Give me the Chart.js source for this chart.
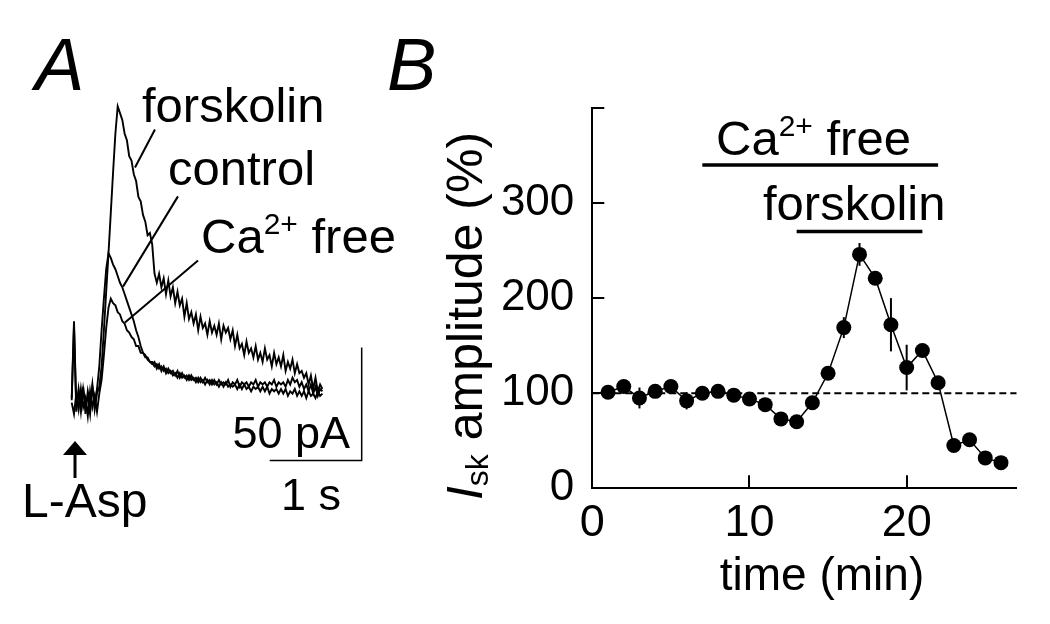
<!DOCTYPE html>
<html>
<head>
<meta charset="utf-8">
<script src="https://cdn.jsdelivr.net/npm/chart.js@4.4.1/dist/chart.umd.min.js"></script>
<style>
  html, body { margin: 0; padding: 0; background: #fff; }
  #figure { position: relative; width: 1050px; height: 624px; overflow: hidden; background: #fff; }
  #figure canvas { position: absolute; top: 0; }
  #traceCanvas { left: 0; }
  #timeCanvas { left: 370px; }
</style>
</head>
<body>
<div id="figure">
  <canvas id="traceCanvas" width="460" height="624"></canvas>
  <canvas id="timeCanvas" width="680" height="624"></canvas>
</div>
<script>
// ---- panel A: current traces (pA), one sample every 25 ms starting at -25 ms
const sampleStart = -0.025;
const sampleStep = 0.025;

const forskolinTrace = [
  -3, 30, -8, 2, -6, 3, -9, 1, -5, 4,
  -7, 0, 3, 12, 28, 45, 62, 80, 98, 115,
  127, 124, 121, 115, 112, 105, 103, 97, 94, 87,
  85, 79, 76, 70, 71, 66, 53, 49, 53, 47,
  51, 44, 50, 43, 47, 40, 45, 39, 42, 34,
  40, 33, 36, 31, 35, 28, 34, 29, 31, 26,
  32, 27, 30, 26, 31, 24, 30, 27, 29, 24,
  28, 21, 26, 20, 22, 17, 23, 18, 20, 16,
  21, 15, 18, 14, 20, 15, 17, 12, 18, 13,
  16, 12, 17, 10, 14, 11, 15, 9, 13, 9,
  10, 7, 9, 4, 8, 2, 7, 1, 4, 2
];
const controlTrace = [
  -2, 32, -6, 1, -8, 2, -5, -1, -9, 3,
  -4, 2, 12, 28, 42, 55, 62, 60, 57, 55,
  52, 49, 47, 44, 41, 38, 35, 32, 28, 25,
  21, 18, 17, 15, 14, 13, 14, 11, 13, 10,
  12, 9, 11, 9, 10, 8, 10, 7, 9, 7,
  8, 6, 8, 6, 7, 5, 7, 5, 7, 5,
  6, 4, 6, 4, 6, 4, 5, 4, 6, 3,
  5, 4, 6, 3, 5, 4, 5, 3, 5, 4,
  6, 3, 5, 4, 5, 3, 5, 4, 6, 3,
  5, 4, 5, 3, 6, 4, 7, 5, 6, 3,
  5, 2, 4, 1, 4, 0, 3, -1, 2, 1
];
const caFreeTrace = [
  -4, -9, 0, -7, 2, -6, -2, -10, 1, -6,
  -1, -8, 0, 6, 17, 29, 38, 42, 40, 39,
  36, 35, 32, 31, 28, 27, 25, 24, 21, 21,
  18, 18, 16, 16, 14, 14, 12, 13, 11, 12,
  10, 11, 9, 10, 8, 9, 7, 9, 7, 8,
  6, 8, 6, 7, 5, 7, 5, 6, 4, 6,
  4, 6, 4, 5, 3, 5, 3, 5, 3, 4,
  3, 4, 2, 4, 2, 4, 2, 3, 1, 3,
  2, 3, 1, 3, 1, 3, 0, 2, 1, 2,
  0, 2, 0, 2, -1, 1, 0, 2, -1, 1,
  -1, 1, -2, 1, -1, 0, -2, 1, -1, 0
];
const scaleBarTime = 1;      // s
const scaleBarCurrent = 50;  // pA

// ---- panel B: Isk amplitude (% of control) vs time (min)
const minutes = [1, 2, 3, 4, 5, 6, 7, 8, 9, 10, 11, 12, 13, 14, 15, 16, 17, 18, 19, 20, 21, 22, 23, 24, 25, 26];
const amplitude = [101, 107, 95, 102, 107, 92, 100, 102, 98, 94, 88, 73, 70, 90, 121, 169, 246, 221, 172, 127, 145, 111, 45, 51, 32, 27];
const amplitudeSem = [5, 5, 11, 5, 5, 9, 5, 5, 5, 5, 5, 5, 5, 5, 5, 11, 12, 6, 28, 24, 5, 5, 4, 4, 4, 4];
const caFreePeriod = [7, 22];
const forskolinPeriod = [13, 21];

const FONT = '"Liberation Sans", Arial, Helvetica, sans-serif';

function drawParts(ctx, parts, x, y, align) {
  let total = 0;
  const widths = parts.map(p => {
    ctx.font = (p.italic ? 'italic ' : '') + p.size + 'px ' + FONT;
    const w = ctx.measureText(p.text).width;
    total += w;
    return w;
  });
  let cx = x;
  if (align === 'center') cx = x - total / 2;
  if (align === 'right') cx = x - total;
  parts.forEach((p, i) => {
    ctx.font = (p.italic ? 'italic ' : '') + p.size + 'px ' + FONT;
    ctx.fillText(p.text, cx, y + (p.dy || 0));
    cx += widths[i];
  });
}

// ---------- panel A ----------
const traceTimes = forskolinTrace.map((v, i) => sampleStart + i * sampleStep);
const toPoints = vals => vals.map((v, i) => ({ x: traceTimes[i], y: v }));

// scale bar corner sits at the lower right
const barCorner = { x: 3.127, y: -29.6 };

const traceLabels = {
  id: 'traceLabels',
  afterDraw(chart) {
    const { ctx, scales: { x } } = chart;
    ctx.save();
    ctx.fillStyle = '#000';
    ctx.textBaseline = 'alphabetic';
    drawParts(ctx, [{ text: 'A', size: 74, italic: true }], 35, 90);
    drawParts(ctx, [{ text: 'forskolin', size: 49 }], 142, 122);
    drawParts(ctx, [{ text: 'control', size: 49 }], 168, 185);
    drawParts(ctx, [
      { text: 'Ca', size: 49 },
      { text: '2+', size: 30, dy: -19 },
      { text: ' free', size: 49 }
    ], 201, 253);
    drawParts(ctx, [{ text: '50 pA', size: 45 }], 350, 448, 'right');
    drawParts(ctx, [{ text: '1 s', size: 45 }], 281, 510);
    drawParts(ctx, [{ text: 'L-Asp', size: 48 }], 22, 517);

    // L-Asp application arrow at t = 0
    const ax = x.getPixelForValue(0) + 1;
    ctx.strokeStyle = '#000';
    ctx.lineWidth = 3;
    ctx.beginPath();
    ctx.moveTo(ax, 452);
    ctx.lineTo(ax, 478);
    ctx.stroke();
    ctx.beginPath();
    ctx.moveTo(ax - 12, 455);
    ctx.lineTo(ax, 441);
    ctx.lineTo(ax + 12, 455);
    ctx.closePath();
    ctx.fill();
    ctx.restore();
  }
};

const traceLine = data => ({
  data, borderColor: '#000', borderWidth: 1.9, pointRadius: 0, tension: 0
});

new Chart(document.getElementById('traceCanvas'), {
  type: 'line',
  data: {
    datasets: [
      traceLine(toPoints(forskolinTrace)),
      traceLine(toPoints(controlTrace)),
      traceLine(toPoints(caFreeTrace)),
      {
        data: [
          { x: barCorner.x - scaleBarTime, y: barCorner.y },
          { x: barCorner.x, y: barCorner.y },
          { x: barCorner.x, y: barCorner.y + scaleBarCurrent }
        ],
        borderColor: '#000', borderWidth: 1.5, pointRadius: 0
      },
      // leader lines from the labels to their traces
      { data: [{ x: 0.88, y: 116.8 }, { x: 0.663, y: 100 }], borderColor: '#000', borderWidth: 2, pointRadius: 0 },
      { data: [{ x: 1.13, y: 87.2 }, { x: 0.533, y: 47.3 }], borderColor: '#000', borderWidth: 2, pointRadius: 0 },
      { data: [{ x: 1.348, y: 58.8 }, { x: 0.554, y: 31.4 }], borderColor: '#000', borderWidth: 2, pointRadius: 0 }
    ]
  },
  options: {
    responsive: false,
    animation: false,
    events: [],
    layout: { padding: { left: 28, top: 77, right: 64, bottom: 140 } },
    plugins: { legend: { display: false }, tooltip: { enabled: false } },
    scales: {
      x: { type: 'linear', display: false, min: -0.5, max: 3.5 },
      y: { type: 'linear', display: false, min: -40, max: 140 }
    }
  },
  plugins: [traceLabels]
});

// ---------- panel B ----------
const errorBars = {
  id: 'errorBars',
  beforeDatasetsDraw(chart) {
    const { ctx, scales: { x, y } } = chart;
    ctx.save();
    ctx.strokeStyle = '#000';
    ctx.lineWidth = 2;
    minutes.forEach((m, i) => {
      const px = x.getPixelForValue(m);
      ctx.beginPath();
      ctx.moveTo(px, y.getPixelForValue(amplitude[i] - amplitudeSem[i]));
      ctx.lineTo(px, y.getPixelForValue(amplitude[i] + amplitudeSem[i]));
      ctx.stroke();
    });
    ctx.restore();
  }
};

const innerTicks = {
  id: 'innerTicks',
  afterDraw(chart) {
    const { ctx, chartArea, scales: { x, y } } = chart;
    ctx.save();
    ctx.strokeStyle = '#000';
    ctx.lineWidth = 2;
    x.ticks.forEach(t => {
      if (t.value === 0) return;
      const px = Math.round(x.getPixelForValue(t.value));
      ctx.beginPath();
      ctx.moveTo(px, chartArea.bottom);
      ctx.lineTo(px, chartArea.bottom - 13);
      ctx.stroke();
    });
    y.ticks.forEach(t => {
      if (t.value === 0) return;
      const py = Math.round(y.getPixelForValue(t.value));
      ctx.beginPath();
      ctx.moveTo(chartArea.left, py);
      ctx.lineTo(chartArea.left + 12, py);
      ctx.stroke();
    });
    ctx.restore();
  }
};

const timeLabels = {
  id: 'timeLabels',
  afterDraw(chart) {
    const { ctx } = chart;
    ctx.save();
    ctx.fillStyle = '#000';
    ctx.textBaseline = 'alphabetic';
    drawParts(ctx, [{ text: 'B', size: 74, italic: true }], 17, 90);
    drawParts(ctx, [
      { text: 'Ca', size: 49 },
      { text: '2+', size: 30, dy: -19 },
      { text: ' free', size: 49 }
    ], 346, 155);
    drawParts(ctx, [{ text: 'forskolin', size: 49 }], 393, 220);
    drawParts(ctx, [{ text: 'time (min)', size: 46 }], 452, 590, 'center');

    ctx.translate(112, 316);
    ctx.rotate(-Math.PI / 2);
    drawParts(ctx, [
      { text: 'I', size: 50, italic: true },
      { text: 'sk', size: 32, dy: 6 },
      { text: ' amplitude (%)', size: 50 }
    ], 0, 0, 'center');
    ctx.restore();
  }
};

const flatLine = (from, to, level, width, dash) => ({
  data: [{ x: from, y: level }, { x: to, y: level }],
  borderColor: '#000', borderWidth: width, borderDash: dash || [], pointRadius: 0
});

new Chart(document.getElementById('timeCanvas'), {
  type: 'line',
  data: {
    datasets: [
      {
        data: minutes.map((m, i) => ({ x: m, y: amplitude[i] })),
        borderColor: '#000',
        borderWidth: 1.5,
        pointRadius: 7.5,
        pointBorderWidth: 0,
        pointBackgroundColor: '#000',
        tension: 0
      },
      flatLine(0, 27, 100, 1.8, [7, 4]),
      flatLine(caFreePeriod[0], caFreePeriod[1], 340, 3.5),
      flatLine(forskolinPeriod[0], forskolinPeriod[1], 270, 3.5)
    ]
  },
  options: {
    responsive: false,
    animation: false,
    events: [],
    layout: { padding: { left: 0, top: 108, right: 33.3, bottom: 65.7 } },
    plugins: { legend: { display: false }, tooltip: { enabled: false } },
    scales: {
      x: {
        type: 'linear', min: 0, max: 27,
        grid: { display: false },
        border: { display: true, color: '#000', width: 2 },
        ticks: { stepSize: 10, includeBounds: false, color: '#000', padding: 0, maxRotation: 0, font: { family: FONT, size: 45 } },
        afterFit(scale) { scale.height = 70; }
      },
      y: {
        type: 'linear', min: 0, max: 400,
        grid: { display: false },
        border: { display: true, color: '#000', width: 2 },
        ticks: { stepSize: 100, color: '#000', padding: 10, font: { family: FONT, size: 44 }, callback: v => (v === 400 ? '' : v) },
        afterFit(scale) { scale.width = 222.3; }
      }
    }
  },
  plugins: [errorBars, innerTicks, timeLabels]
});
</script>
</body>
</html>
